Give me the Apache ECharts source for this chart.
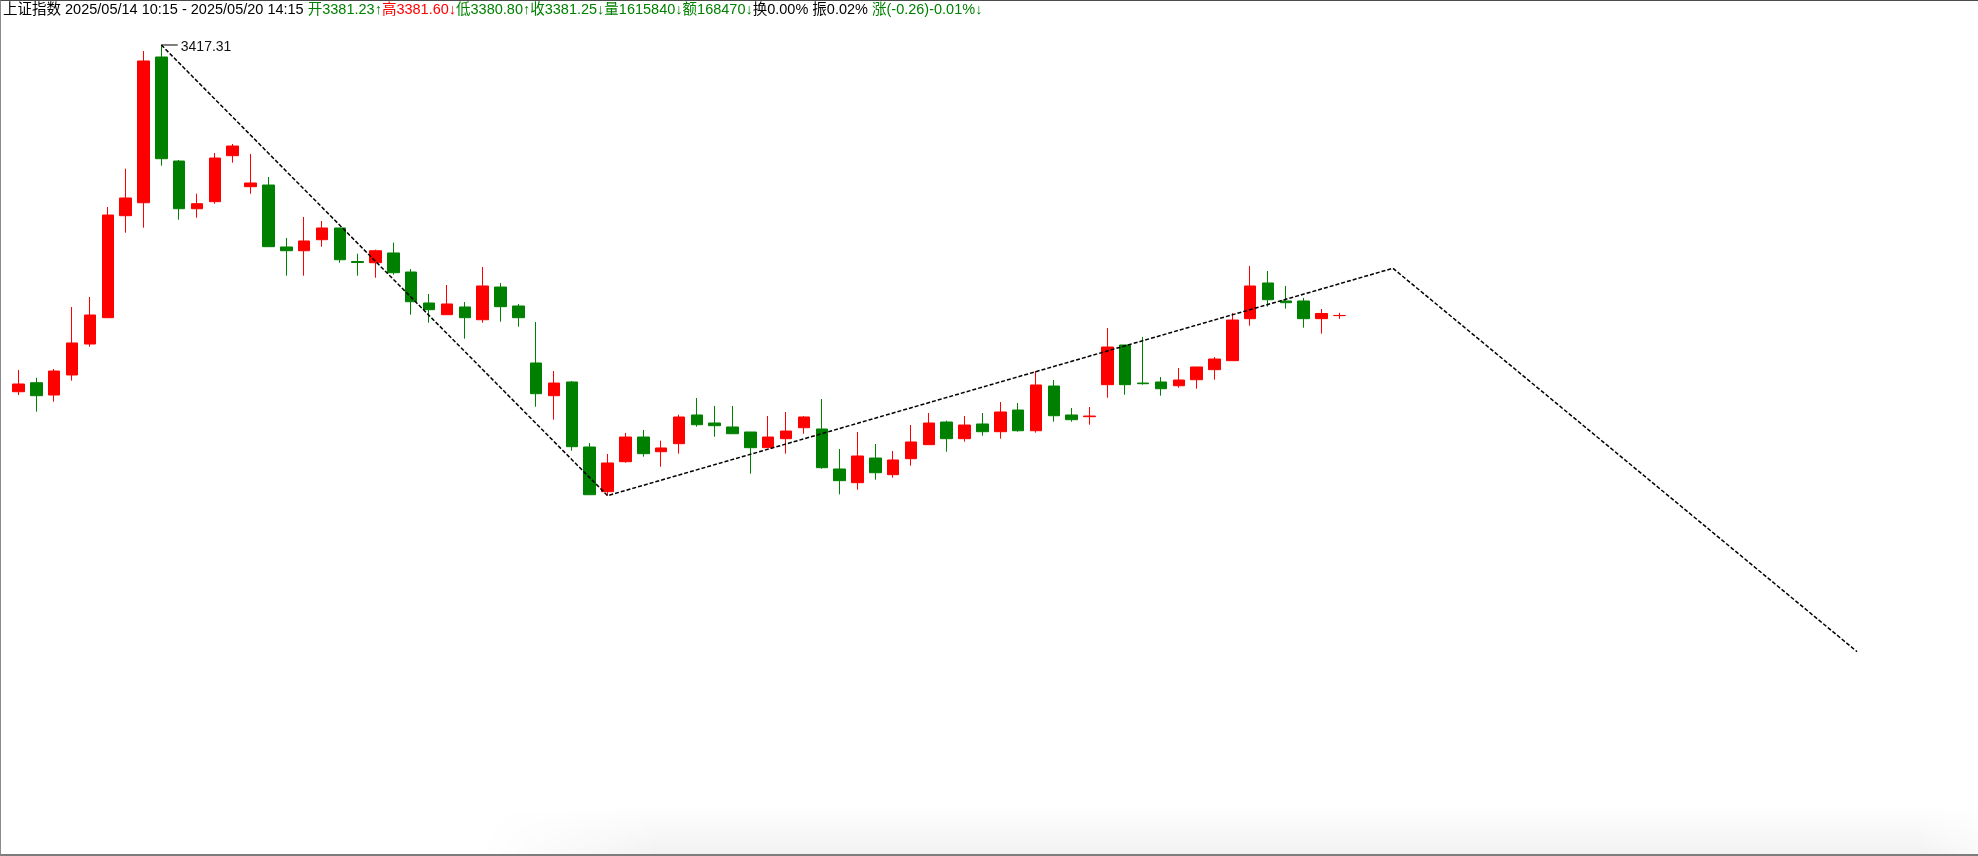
<!DOCTYPE html>
<html><head><meta charset="utf-8">
<script src="https://cdn.jsdelivr.net/npm/echarts@6/dist/echarts.min.js"></script>
<style>
html,body{margin:0;padding:0;background:#fff;}
#chart{position:absolute;left:0;top:0;width:1978px;height:856px;}
#frame{position:absolute;left:0;top:0;width:1978px;height:856px;box-sizing:border-box;border-left:1px solid #8c8c8c;border-top:1px solid #4a4a4a;border-bottom:2px solid #7d7d7d;pointer-events:none;}
#shade{position:absolute;left:480px;top:805px;width:1498px;height:49px;pointer-events:none;
 background:linear-gradient(to bottom, rgba(0,0,0,0), rgba(0,0,0,0.05));
 -webkit-mask-image:linear-gradient(to right, rgba(0,0,0,0), rgba(0,0,0,1) 12%, rgba(0,0,0,1) 96%, rgba(0,0,0,0.4));}
</style></head><body>
<div id="chart"></div><div id="shade"></div><div id="frame"></div>
<script>
// 15-minute bars, 2025/05/14 10:15 - 2025/05/20 14:15
const times = [
 '05/14 10:15','05/14 10:30','05/14 10:45','05/14 11:00','05/14 11:15','05/14 11:30','05/14 13:15','05/14 13:30','05/14 13:45','05/14 14:00','05/14 14:15','05/14 14:30','05/14 14:45','05/14 15:00',
 '05/15 09:45','05/15 10:00','05/15 10:15','05/15 10:30','05/15 10:45','05/15 11:00','05/15 11:15','05/15 11:30','05/15 13:15','05/15 13:30','05/15 13:45','05/15 14:00','05/15 14:15','05/15 14:30','05/15 14:45','05/15 15:00',
 '05/16 09:45','05/16 10:00','05/16 10:15','05/16 10:30','05/16 10:45','05/16 11:00','05/16 11:15','05/16 11:30','05/16 13:15','05/16 13:30','05/16 13:45','05/16 14:00','05/16 14:15','05/16 14:30','05/16 14:45','05/16 15:00',
 '05/19 09:45','05/19 10:00','05/19 10:15','05/19 10:30','05/19 10:45','05/19 11:00','05/19 11:15','05/19 11:30','05/19 13:15','05/19 13:30','05/19 13:45','05/19 14:00','05/19 14:15','05/19 14:30','05/19 14:45','05/19 15:00',
 '05/20 09:45','05/20 10:00','05/20 10:15','05/20 10:30','05/20 10:45','05/20 11:00','05/20 11:15','05/20 11:30','05/20 13:15','05/20 13:30','05/20 13:45','05/20 14:00','05/20 14:15'
];
const opens = [3371.08,3372.28,3370.64,3373.31,3377.44,3380.95,3394.55,3396.28,3415.71,3401.84,
 3395.48,3396.42,3402.55,3398.42,3398.64,3390.38,3389.88,3391.35,3392.91,3388.44,
 3388.28,3389.58,3387.04,3382.91,3381.35,3382.38,3380.68,3385.04,3382.51,3374.91,
 3370.55,3372.38,3363.71,3357.75,3361.75,3365.04,3363.08,3364.15,3367.98,3366.91,
 3366.38,3365.71,3363.62,3364.82,3366.28,3366.11,3360.78,3358.95,3362.24,3360.02,
 3362.15,3364.02,3367.04,3364.82,3366.78,3365.75,3368.64,3365.88,3371.84,3367.98,
 3367.75,3372.02,3377.31,3372.24,3372.38,3371.88,3372.68,3374.02,3375.22,3380.82,
 3385.58,3383.18,3383.18,3380.82,3381.23];
const closes = [3372.11,3370.55,3373.84,3377.58,3381.31,3394.64,3396.91,3415.18,3402.15,3395.48,
 3396.15,3402.24,3403.84,3398.91,3390.42,3389.88,3391.18,3392.91,3388.68,3388.31,
 3389.88,3386.95,3383.08,3382.02,3382.78,3380.95,3385.18,3382.42,3380.95,3370.82,
 3372.24,3363.75,3357.35,3361.58,3365.04,3362.82,3363.58,3367.71,3366.68,3366.55,
 3365.48,3363.62,3365.04,3365.84,3367.71,3360.95,3359.22,3362.51,3360.28,3361.98,
 3364.38,3366.91,3364.82,3366.64,3365.75,3368.38,3365.88,3371.98,3367.88,3367.35,
 3367.84,3377.04,3372.02,3372.15,3371.48,3372.64,3374.38,3375.44,3380.64,3385.18,
 3383.35,3382.95,3380.82,3381.51,3381.25];
const lows = [3370.64,3368.42,3369.75,3372.55,3377.08,3380.95,3392.28,3392.95,3401.22,3394.02,
 3394.28,3396.15,3401.62,3397.48,3390.42,3386.55,3386.55,3390.42,3388.28,3386.55,
 3386.28,3386.68,3381.35,3380.28,3381.35,3378.15,3380.28,3380.42,3379.75,3369.08,
 3367.35,3363.22,3357.30,3357.22,3361.62,3362.42,3361.08,3362.82,3366.42,3365.08,
 3365.48,3360.15,3363.62,3362.82,3365.48,3360.82,3357.40,3358.02,3359.35,3359.62,
 3361.22,3364.02,3363.08,3364.42,3365.22,3364.82,3365.75,3365.62,3367.08,3367.08,
 3366.68,3370.28,3370.68,3372.02,3370.55,3371.62,3371.48,3372.68,3375.22,3379.88,
 3382.42,3382.15,3379.62,3378.82,3380.80];
const highs = [3373.98,3372.95,3374.11,3382.38,3383.71,3395.71,3400.82,3416.51,3417.31,3401.98,
 3397.48,3402.91,3404.11,3402.78,3399.71,3391.58,3394.38,3393.84,3392.91,3389.48,
 3390.02,3390.95,3387.44,3384.11,3385.31,3383.04,3387.71,3385.58,3382.78,3380.38,
 3373.84,3372.51,3364.24,3362.78,3365.58,3365.98,3364.55,3368.02,3370.24,3369.18,
 3369.18,3365.71,3367.84,3368.38,3367.84,3370.11,3363.44,3365.71,3364.11,3363.18,
 3366.64,3368.24,3367.22,3367.84,3368.24,3369.71,3369.58,3373.84,3372.64,3368.91,
 3369.04,3379.58,3377.31,3378.38,3373.04,3374.24,3374.38,3375.71,3381.58,3387.84,
 3387.18,3385.18,3383.58,3382.11,3381.60];
// zigzag trend line (x in bar index units)
const zigX = [8, 33, 77, 103];
const zigY = [3417.31, 3357.22, 3387.54, 3336.42];
// highest-point annotation
const peakIndex = 8;
const peakValue = 3417.31;
const peakLabel = '3417.31';
// header quote
const headerTitle = '上证指数';
const headerRange = '2025/05/14 10:15 - 2025/05/20 14:15';
const quoteNames = ['开', '高', '低', '收', '量', '额'];
const quoteValues = ['3381.23', '3381.60', '3380.80', '3381.25', '1615840', '168470'];
const quoteArrows = ['↑', '↓', '↑', '↓', '↓', '↓'];
const quoteStyles = ['g', 'r', 'g', 'g', 'g', 'g'];
const turnover = '换0.00%';
const amplitude = '振0.02%';
const change = '涨(-0.26)-0.01%↓';

const slotCount = 110;
const yMax = 3419.31, yMin = 3312.6433;

const categories = times.slice();
while (categories.length < slotCount) categories.push('');
const kData = opens.map((o, i) => [o, closes[i], lows[i], highs[i]]);
const zigData = zigX.map((x, i) => [x, zigY[i]]);

let header = '{a|' + headerTitle + ' ' + headerRange + ' }';
quoteNames.forEach((n, i) => { header += '{' + quoteStyles[i] + '|' + n + quoteValues[i] + quoteArrows[i] + '}'; });
header += '{a|' + turnover + ' ' + amplitude + ' }{g|' + change + '}';

const FONT = '"Liberation Sans", Arial, "Noto Sans CJK SC", sans-serif';
const chart = echarts.init(document.getElementById('chart'), null, {renderer: 'canvas'});
chart.setOption({
  animation: false,
  backgroundColor: '#ffffff',
  title: {
    left: 3, top: 3, padding: 0,
    text: header,
    textStyle: {
      fontFamily: FONT, fontSize: 14.5, fontWeight: 'normal',
      rich: {
        a: {color: '#000000', fontFamily: FONT, fontSize: 14.5},
        g: {color: '#008000', fontFamily: FONT, fontSize: 14.5},
        r: {color: '#ff0000', fontFamily: FONT, fontSize: 14.5}
      }
    }
  },
  grid: {left: 9.575, top: 30, width: 1963.5, height: 800, containLabel: false},
  xAxis: [
    {type: 'category', data: categories, boundaryGap: true, show: false},
    {type: 'value', min: -0.5, max: slotCount - 0.5, show: false}
  ],
  yAxis: {type: 'value', min: yMin, max: yMax, show: false, splitLine: {show: false}, scale: true},
  series: [
    {
      type: 'candlestick',
      xAxisIndex: 0,
      data: kData,
      barWidth: 12,
      clip: false,
      itemStyle: {
        color: '#ff0000', color0: '#008000',
        borderColor: '#ff0000', borderColor0: '#008000',
        borderColorDoji: '#ff0000', borderWidth: 1
      }
    },
    {
      type: 'line',
      xAxisIndex: 1,
      data: zigData,
      symbol: 'none',
      clip: false,
      lineStyle: {color: '#000000', width: 1.5, type: [4, 2]},
      z: 5
    },
    {
      type: 'line',
      xAxisIndex: 1,
      data: [[peakIndex, peakValue], {value: [peakIndex + 0.92, peakValue], label: {show: true}}],
      symbol: 'circle', symbolSize: 0.1,
      itemStyle: {color: 'rgba(0,0,0,0)'},
      clip: false,
      lineStyle: {color: '#000000', width: 1},
      label: {show: false, position: 'right', distance: 3, formatter: peakLabel,
              color: '#111111', fontFamily: FONT, fontSize: 14, offset: [0, 2]},
      z: 6
    }
  ]
});
</script>
</body></html>
